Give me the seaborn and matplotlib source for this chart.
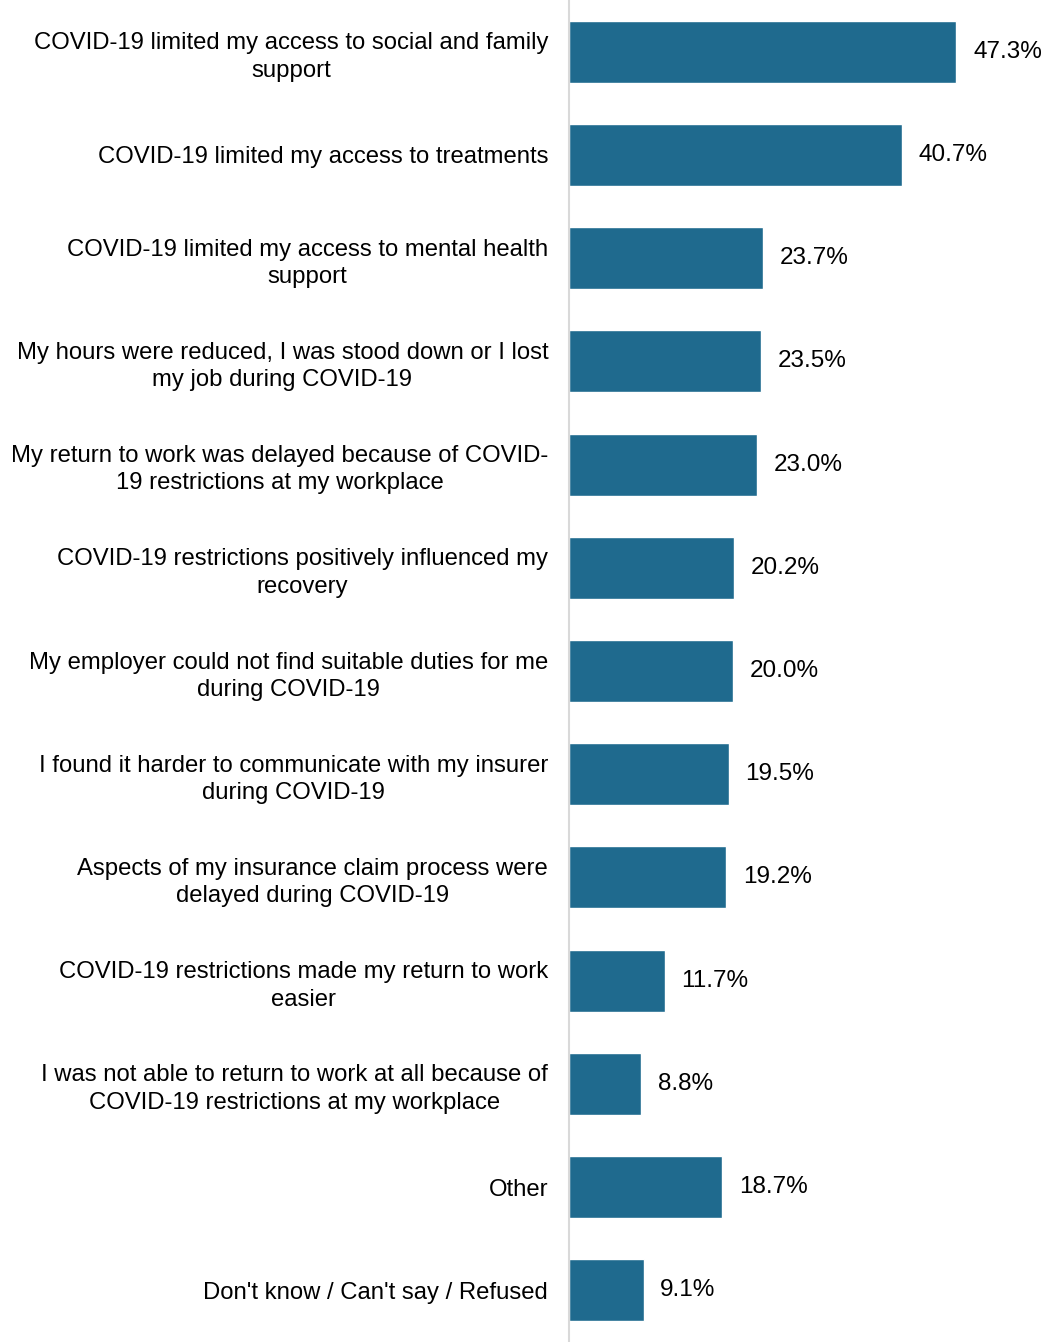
import pandas as pd
import matplotlib
matplotlib.use("Agg")
import matplotlib.pyplot as plt
import seaborn as sns

# Chart data
labels = [
    "COVID-19 limited my access to social and family\nsupport",
    "COVID-19 limited my access to treatments",
    "COVID-19 limited my access to mental health\nsupport",
    "My hours were reduced, I was stood down or I lost\nmy job during COVID-19",
    "My return to work was delayed because of COVID-\n19 restrictions at my workplace",
    "COVID-19 restrictions positively influenced my\nrecovery",
    "My employer could not find suitable duties for me\nduring COVID-19",
    "I found it harder to communicate with my insurer\nduring COVID-19",
    "Aspects of my insurance claim process were\ndelayed during COVID-19",
    "COVID-19 restrictions made my return to work\neasier",
    "I was not able to return to work at all because of\nCOVID-19 restrictions at my workplace",
    "Other",
    "Don't know / Can't say / Refused",
]
values = [47.3, 40.7, 23.7, 23.5, 23.0, 20.2, 20.0, 19.5, 19.2, 11.7, 8.8, 18.7, 9.1]

df = pd.DataFrame({"label": labels, "value": values})

sns.set_style("white")
plt.rcParams["font.family"] = ["Liberation Sans", "DejaVu Sans"]

fig = plt.figure(figsize=(10.44, 13.42), dpi=100)
ax = fig.add_axes([0.545, 0.0, 0.455, 1.0])

sns.barplot(data=df, x="value", y="label", color="#1F6A8E", saturation=1,
            width=0.6, ax=ax)

ax.set_xlim(0, 58)
ax.set_ylim(12.5, -0.5)
ax.set_xlabel("")
ax.set_ylabel("")
ax.set_xticks([])

for s in ["top", "right", "bottom"]:
    ax.spines[s].set_visible(False)
ax.spines["left"].set_color("#d9d9d9")
ax.spines["left"].set_linewidth(1.5)

ax.tick_params(axis="y", length=0, pad=15, labelsize=17.2, labelcolor="black")
for t in ax.get_yticklabels():
    t.set_multialignment("center")
    t.set_linespacing(1.32)

ax.bar_label(ax.containers[0], labels=[f"{v:.1f}%" for v in values],
             padding=12, fontsize=17.5, color="black")

fig.savefig("out.png", dpi=100)
